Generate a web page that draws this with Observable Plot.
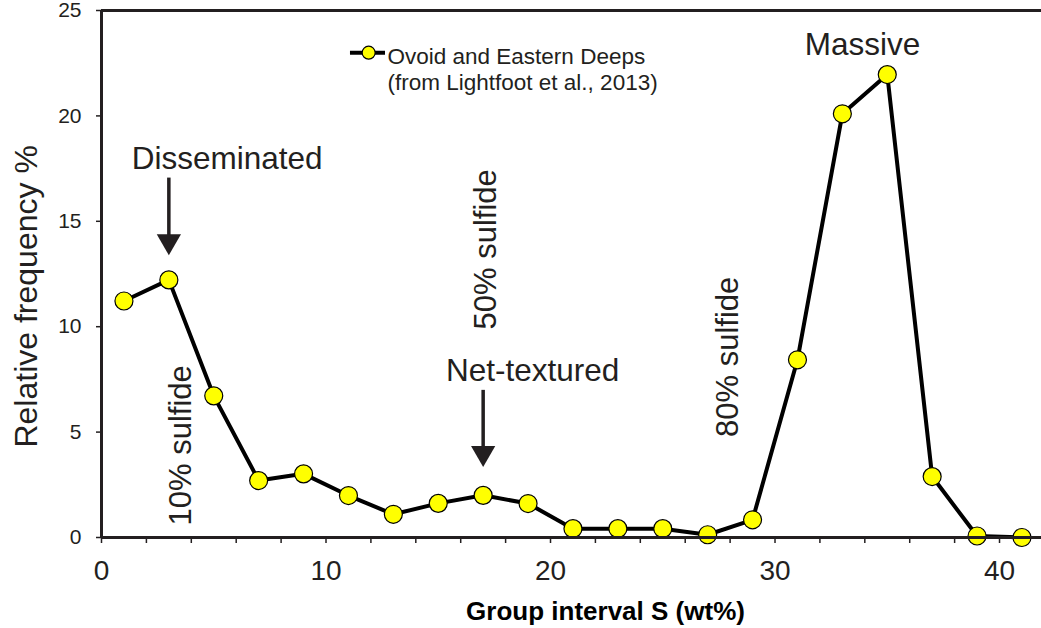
<!DOCTYPE html>
<html>
<head>
<meta charset="utf-8">
<script src="https://cdn.jsdelivr.net/npm/d3@7"></script>
<script src="https://cdn.jsdelivr.net/npm/@observablehq/plot@0.6"></script>
<style>
  html, body { margin: 0; padding: 0; background: #fff; }
  #chart { width: 1041px; height: 628px; }
</style>
</head>
<body>
<div id="chart"></div>
<script>
// ---- Data ----
const groupInterval = [1, 3, 5, 7, 9, 11, 13, 15, 17, 19, 21, 23, 25, 27, 29, 31, 33, 35, 37, 39, 41];
const relFrequency  = [11.22, 12.22, 6.72, 2.70, 3.02, 1.99, 1.10, 1.62, 2.00, 1.61, 0.42, 0.42, 0.42, 0.13, 0.84, 8.43, 20.10, 21.96, 2.89, 0.07, 0.0];

const xTicks = [0, 2, 4, 6, 8, 10, 12, 14, 16, 18, 20, 22, 24, 26, 28, 30, 32, 34, 36, 38, 40];
const yTicks = [0, 5, 10, 15, 20, 25];

const seriesName = "Ovoid and Eastern Deeps\n(from Lightfoot et al., 2013)";
const xTitle = "Group interval S (wt%)";
const yTitle = "Relative frequency %";

const typeLabels = ["Disseminated", "Net-textured", "Massive"];
const typeLabelX = [5.60, 19.20, 33.90];
const typeLabelY = [17.96, 7.88, 23.37];

const sulfideLabels = ["10% sulfide", "50% sulfide", "80% sulfide"];
const sulfideLabelX = [3.54, 17.13, 27.93];
const sulfideLabelY = [4.37, 13.67, 8.57];

const arrowX    = [3, 17];
const arrowTop  = [17.05, 6.98];
const arrowHead = [14.05, 4.01];

// ---- Build tables ----
const points = groupInterval.map((x, i) => ({x, y: relFrequency[i]}));
const typeTable = typeLabels.map((t, i) => ({t, x: typeLabelX[i], y: typeLabelY[i]}));
const sulfideTable = sulfideLabels.map((t, i) => ({t, x: sulfideLabelX[i], y: sulfideLabelY[i]}));
const arrows = arrowX.map((x, i) => ({x, y1: arrowTop[i], y2: arrowHead[i]}));

const ink = "#231f20";

const chart = Plot.plot({
  width: 1041,
  height: 628,
  marginLeft: 101,
  marginRight: 0,
  marginTop: 10,
  marginBottom: 91,
  x: {domain: [0, 41.87]},
  y: {domain: [0, 25]},
  style: {fontFamily: "'Liberation Sans', Arial, Helvetica, sans-serif", background: "#fff", color: ink, overflow: "visible"},
  marks: [
    Plot.axisY({ticks: yTicks, tickSize: 5, tickPadding: 15, fontSize: 21, label: null, stroke: ink, strokeWidth: 1.5}),
    Plot.axisX({ticks: xTicks, tickFormat: d => (d % 10 === 0 ? String(d) : ""), tickSize: 6, tickPadding: 17, fontSize: 28, label: null, stroke: ink, strokeWidth: 1.5}),

    // annotations
    Plot.text(typeTable, {x: "x", y: "y", text: "t", fontSize: 31.5, fill: ink, textAnchor: "middle", lineAnchor: "middle"}),
    Plot.text(sulfideTable, {x: "x", y: "y", text: "t", fontSize: 31, fill: ink, rotate: -90, textAnchor: "middle", lineAnchor: "middle"}),
    Plot.ruleX(arrows, {x: "x", y1: "y1", y2: "y2", stroke: ink, strokeWidth: 3.5}),
    Plot.dot(arrows, {x: "x", y: "y2", symbol: "triangle", r: 9, rotate: 180, fill: ink, stroke: "none"}),

    // legend
    Plot.ruleY([23.0], {x1: 11.09, x2: 12.65, stroke: "black", strokeWidth: 4}),
    Plot.dot([23.0], {x: () => 11.9, y: d => d, r: 6.5, fill: "#ffff00", stroke: "black", strokeWidth: 1.2}),
    Plot.text([seriesName], {x: () => 12.74, y: () => 23.38, text: d => d, fontSize: 22.5, lineHeight: 1.19, textAnchor: "start", lineAnchor: "top", fill: ink}),

    // data
    Plot.line(points, {x: "x", y: "y", stroke: "black", strokeWidth: 4, strokeLinejoin: "miter"}),
    Plot.dot(points, {x: "x", y: "y", r: 9, fill: "#ffff00", stroke: "black", strokeWidth: 1.2}),

    // axis titles
    Plot.text([xTitle], {x: () => 22.45, frameAnchor: "bottom", dy: 74.5, text: d => d, fontSize: 26, fontWeight: "bold", fill: "#000", lineAnchor: "middle"}),
    Plot.text([yTitle], {x: () => -3.32, y: () => 11.44, text: d => d, fontSize: 32, rotate: -90, fill: ink, textAnchor: "middle", lineAnchor: "middle"}),

    // frame (left, top, bottom)
    Plot.ruleX([0], {stroke: ink, strokeWidth: 3}),
    Plot.ruleY([0, 25], {stroke: ink, strokeWidth: 3})
  ]
});
document.getElementById("chart").appendChild(chart);
</script>
</body>
</html>
